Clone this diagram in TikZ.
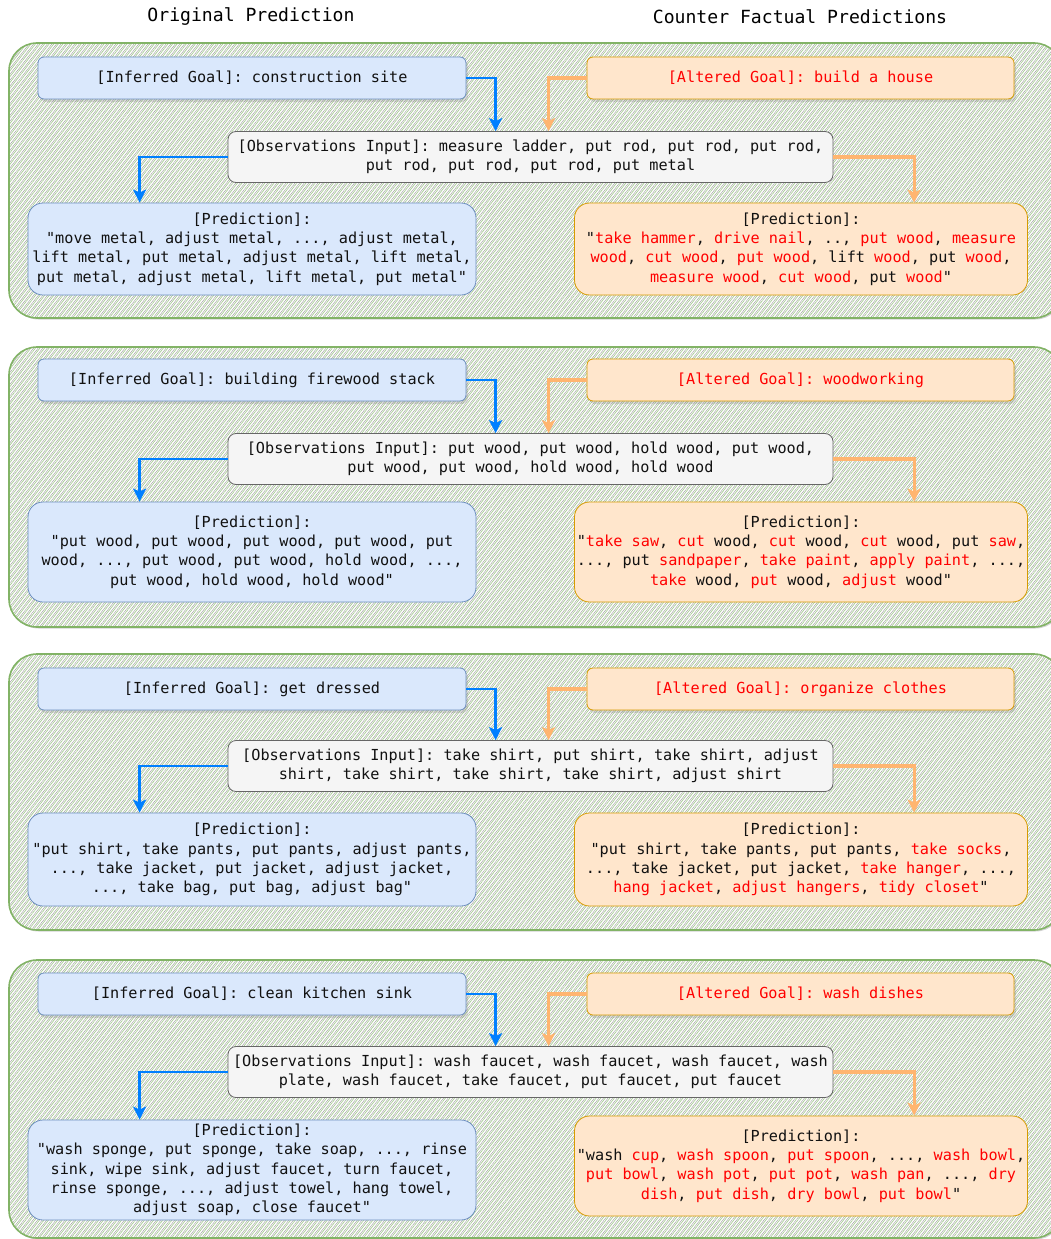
\documentclass[tikz,border=0pt]{standalone}
\usepackage{fontspec}
\setmonofont{DejaVu Sans Mono}
\usepackage{tikz}
\usetikzlibrary{arrows.meta,patterns.meta,shadows}
\definecolor{goal}{HTML}{DAE8FC}
\definecolor{goalline}{HTML}{6C8EBF}
\definecolor{alt}{HTML}{FFE6CC}
\definecolor{altline}{HTML}{D79B00}
\definecolor{obs}{HTML}{F5F5F5}
\definecolor{obsline}{HTML}{666666}
\definecolor{blueflow}{HTML}{007FFF}
\definecolor{orangeflow}{HTML}{FFB570}
\definecolor{altred}{HTML}{FF0000}
\definecolor{panelline}{HTML}{82B366}
\definecolor{hatchgreen}{HTML}{A9CC97}
\definecolor{hatchgray}{HTML}{9C9C9C}
\definecolor{ink}{HTML}{111111}
\newcommand{\redw}[1]{\textcolor{altred}{#1}}
\tikzset{panel/.style={drop shadow={shadow xshift=1.5pt,shadow yshift=-1.5pt,opacity=0.35},draw=panelline,line width=1.6pt,rounded corners=28pt,minimum width=1053pt,preaction={fill=white},preaction={pattern={Lines[angle=52,distance=3.6pt,line width=0.7pt,xshift=1.8pt]},pattern color=hatchgreen},pattern={Lines[angle=52,distance=3.6pt,line width=0.4pt]},pattern color=hatchgray}}
\tikzset{boxtext/.style={ink,font=\ttfamily\fontsize{15.2}{19.3}\selectfont,align=center,inner sep=2pt}}
\tikzset{goal/.style={boxtext,draw=goalline,fill=goal,rounded corners=6pt,minimum height=42pt,line width=0.8pt,drop shadow={shadow xshift=2pt,shadow yshift=-3pt,opacity=0.25}}}
\tikzset{altgoal/.style={boxtext,text=altred,draw=altline,fill=alt,rounded corners=6pt,minimum height=42pt,minimum width=427pt,line width=0.8pt,drop shadow={shadow xshift=2pt,shadow yshift=-3pt,opacity=0.25}}}
\tikzset{obs/.style={boxtext,draw=obsline,fill=obs,rounded corners=8pt,minimum height=51pt,minimum width=605pt,line width=0.8pt}}
\tikzset{predl/.style={boxtext,draw=goalline,fill=goal,rounded corners=15pt,minimum width=448pt,line width=0.8pt}}
\tikzset{predr/.style={boxtext,draw=altline,fill=alt,rounded corners=15pt,minimum width=453pt,line width=0.8pt}}
\tikzset{bluearrow/.style={draw=blueflow,line width=2.6pt,-{Stealth[length=13pt,width=13pt,inset=3pt]}}}
\tikzset{orangearrow/.style={draw=orangeflow,line width=3.1pt,-{Stealth[length=13pt,width=13pt,inset=3pt]}}}
\tikzset{title/.style={black,font=\ttfamily\fontsize{18.1}{22}\selectfont}}

\begin{document}
\begin{tikzpicture}[x=1pt,y=-1pt]
    \useasboundingbox (0,0) rectangle (1050,1239);

    \node[title] (origtitle) at (251,17) {Original Prediction};
    \node[title] (cftitle) at (800,17) {Counter Factual Predictions};

    % panel 1
    \node[panel,minimum height=275pt] (panel1) at (535.5,180.5) {};
    \node[goal,minimum width=428pt] (goal1) at (252,78) {[Inferred Goal]: construction site};
    \node[altgoal] (alt1) at (800.5,78) {[Altered Goal]: build a house};
    \node[obs] (obs1) at (530.5,157)
    {[Observations Input]: measure ladder, put rod, put rod, put rod,\\put rod, put rod, put rod, put metal};
    \node[predl,minimum height=92pt] (predl1) at (252,249)
    {[Prediction]:\\"move metal, adjust metal, ..., adjust metal,\\lift metal, put metal, adjust metal, lift metal,\\put metal, adjust metal, lift metal, put metal"};
    \node[predr,minimum height=92pt] (predr1) at (801,249)
    {[Prediction]:\\"\redw{take hammer}, \redw{drive nail}, .., \redw{put wood}, \redw{measure}\\\redw{wood}, \redw{cut wood}, \redw{put wood}, lift \redw{wood}, put \redw{wood},\\\redw{measure wood}, \redw{cut wood}, put \redw{wood}"};

    \draw[bluearrow] (goal1.east) -| ([xshift=268pt]obs1.north west);
    \draw[orangearrow] (alt1.west) -| ([xshift=321pt]obs1.north west);
    \draw[bluearrow] (obs1.west) -| ([xshift=112pt]predl1.north west);
    \draw[orangearrow] (obs1.east) -| ([xshift=340pt]predr1.north west);

    % panel 2
    \node[panel,minimum height=280pt] (panel2) at (535.5,487) {};
    \node[goal,minimum width=428pt] (goal2) at (252,380) {[Inferred Goal]: building firewood stack};
    \node[altgoal] (alt2) at (800.5,380) {[Altered Goal]: woodworking};
    \node[obs] (obs2) at (530.5,459)
    {[Observations Input]: put wood, put wood, hold wood, put wood,\\put wood, put wood, hold wood, hold wood};
    \node[predl,minimum height=100pt] (predl2) at (252,552)
    {[Prediction]:\\"put wood, put wood, put wood, put wood, put\\wood, ..., put wood, put wood, hold wood, ...,\\put wood, hold wood, hold wood"};
    \node[predr,minimum height=100pt] (predr2) at (801,552)
    {[Prediction]:\\"\redw{take saw}, \redw{cut} wood, \redw{cut} wood, \redw{cut} wood, put \redw{saw},\\..., put \redw{sandpaper}, \redw{take paint}, \redw{apply paint}, ...,\\\redw{take} wood, \redw{put} wood, \redw{adjust} wood"};

    \draw[bluearrow] (goal2.east) -| ([xshift=268pt]obs2.north west);
    \draw[orangearrow] (alt2.west) -| ([xshift=321pt]obs2.north west);
    \draw[bluearrow] (obs2.west) -| ([xshift=112pt]predl2.north west);
    \draw[orangearrow] (obs2.east) -| ([xshift=340pt]predr2.north west);

    % panel 3
    \node[panel,minimum height=276pt] (panel3) at (535.5,792) {};
    \node[goal,minimum width=428pt] (goal3) at (252,689) {[Inferred Goal]: get dressed};
    \node[altgoal] (alt3) at (800.5,689) {[Altered Goal]: organize clothes};
    \node[obs] (obs3) at (530.5,766)
    {[Observations Input]: take shirt, put shirt, take shirt, adjust\\shirt, take shirt, take shirt, take shirt, adjust shirt};
    \node[predl,minimum height=93pt] (predl3) at (252,859.5)
    {[Prediction]:\\"put shirt, take pants, put pants, adjust pants,\\..., take jacket, put jacket, adjust jacket,\\..., take bag, put bag, adjust bag"};
    \node[predr,minimum height=93pt] (predr3) at (801,859.5)
    {[Prediction]:\\"put shirt, take pants, put pants, \redw{take socks},\\..., take jacket, put jacket, \redw{take hanger}, ...,\\\redw{hang jacket}, \redw{adjust hangers}, \redw{tidy closet}"};

    \draw[bluearrow] (goal3.east) -| ([xshift=268pt]obs3.north west);
    \draw[orangearrow] (alt3.west) -| ([xshift=321pt]obs3.north west);
    \draw[bluearrow] (obs3.west) -| ([xshift=112pt]predl3.north west);
    \draw[orangearrow] (obs3.east) -| ([xshift=340pt]predr3.north west);

    % panel 4
    \node[panel,minimum height=278pt] (panel4) at (535.5,1099) {};
    \node[goal,minimum width=428pt] (goal4) at (252,994) {[Inferred Goal]: clean kitchen sink};
    \node[altgoal] (alt4) at (800.5,994) {[Altered Goal]: wash dishes};
    \node[obs] (obs4) at (530.5,1072)
    {[Observations Input]: wash faucet, wash faucet, wash faucet, wash\\plate, wash faucet, take faucet, put faucet, put faucet};
    \node[predl,minimum height=100pt] (predl4) at (252,1170)
    {[Prediction]:\\"wash sponge, put sponge, take soap, ..., rinse\\sink, wipe sink, adjust faucet, turn faucet,\\rinse sponge, ..., adjust towel, hang towel,\\adjust soap, close faucet"};
    \node[predr,minimum height=100pt] (predr4) at (801,1166)
    {[Prediction]:\\"wash \redw{cup}, \redw{wash spoon}, \redw{put spoon}, ..., \redw{wash bowl},\\\redw{put bowl}, \redw{wash pot}, \redw{put pot}, \redw{wash pan}, ..., \redw{dry}\\\redw{dish}, \redw{put dish}, \redw{dry bowl}, \redw{put bowl}"};

    \draw[bluearrow] (goal4.east) -| ([xshift=268pt]obs4.north west);
    \draw[orangearrow] (alt4.west) -| ([xshift=321pt]obs4.north west);
    \draw[bluearrow] (obs4.west) -| ([xshift=112pt]predl4.north west);
    \draw[orangearrow] (obs4.east) -| ([xshift=340pt]predr4.north west);
\end{tikzpicture}
\end{document}
